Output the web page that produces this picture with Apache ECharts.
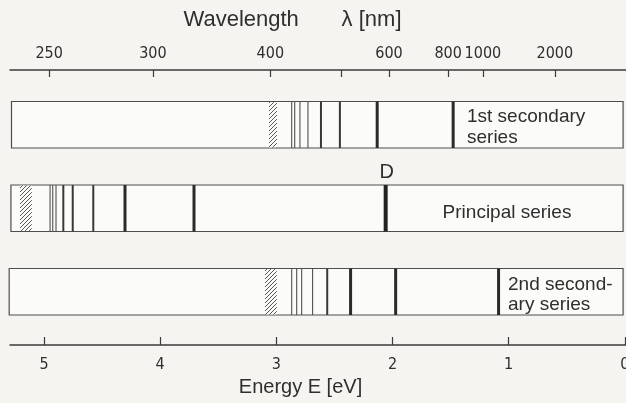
<!DOCTYPE html>
<html><head><meta charset="utf-8">
<script src="https://cdn.jsdelivr.net/npm/echarts@6/dist/echarts.min.js"></script>
<style>html,body{margin:0;padding:0;background:#f5f4f1}#c{width:626px;height:403px}</style>
</head><body><div id="c"></div>
<script>
// ---------------- data ----------------
const seriesNames = ['1st secondary series', 'Principal series', '2nd secondary series'];
const seriesLabels = ['1st secondary\nseries', 'Principal series', '2nd second-\nary series'];

// energy axis (eV) tick labels
const energyTicks = [0, 1, 2, 3, 4, 5];

// wavelength axis: labels and the energy at which each tick sits
const wavelengthTicks = [250, 300, 400, 500, 600, 800, 1000, 2000];
const wavelengthTickEnergy = [4.956, 4.063, 3.052, 2.441, 2.030, 1.521, 1.222, 0.603];
const wavelengthLabelled = [250, 300, 400, 600, 800, 1000, 2000];

// extent of each series band (eV)
const bandStart = [5.28, 5.285, 5.30];
const bandEnd = [0.015, 0.015, 0.015];

// series limits (hatched), eV
const diffuseLimit = [2.995, 3.064];
const principalLimit = [5.106, 5.207];
const sharpLimit = [2.997, 3.098];

// spectral lines (eV) with relative strength 1..4
const diffuseLines = [1.478, 2.132, 2.453, 2.616, 2.728, 2.797, 2.842, 2.868];
const diffuseStrength = [3, 3, 2, 2, 1, 1, 1, 1];
const principalLines = [2.059, 3.709, 4.303, 4.576, 4.753, 4.834, 4.897, 4.925, 4.948];
const principalStrength = [4, 3, 3, 2, 2, 2, 1, 1, 1];
const sharpLines = [1.087, 1.973, 2.361, 2.562, 2.688, 2.782, 2.825, 2.868];
const sharpStrength = [3, 3, 3, 2, 1, 1, 1, 1];

const dLineLabel = 'D';
const dLineEnergy = principalLines[0];

// ---------------- build ----------------
const chart = echarts.init(document.getElementById('c'), null, {renderer: 'canvas'});
const condensed = "'DejaVu Sans Condensed','Liberation Sans Narrow','Roboto Condensed','Liberation Sans',sans-serif";
const sans = "'Liberation Sans',Arial,Helvetica,sans-serif";
const ink = '#2e2e2e';
const BOX_H = 0.557; // row units

// hatch pattern
const pc = document.createElement('canvas');
pc.width = 4; pc.height = 4;
const g = pc.getContext('2d');
g.fillStyle = '#fbfbf9'; g.fillRect(0, 0, 4, 4);
g.strokeStyle = '#555'; g.lineWidth = 1;
g.beginPath();
g.moveTo(-1, 5); g.lineTo(5, -1);
g.moveTo(-1, 1); g.lineTo(1, -1);
g.moveTo(3, 5); g.lineTo(5, 3);
g.stroke();

const rows = [0, 1, 2];
const boxData = rows.map(r => [bandStart[r], bandEnd[r], r]);
const limits = [diffuseLimit, principalLimit, sharpLimit];
const hatchData = rows.map(r => [limits[r][0], limits[r][1], r]);
const lineSets = [[diffuseLines, diffuseStrength], [principalLines, principalStrength], [sharpLines, sharpStrength]];
const lineData = [];
lineSets.forEach((s, r) => s[0].forEach((e, i) => lineData.push([e, r, s[1][i]])));

const widthOf = {1: 1.1, 2: 2, 3: 3, 4: 4};
const colorOf = {1: '#505050', 2: '#383838', 3: '#2a2a2a', 4: '#222'};

function rectFor(api, a, b, row) {
  const p1 = api.coord([a, row + 0.5]);
  const p2 = api.coord([b, row + 0.5]);
  const h = api.size([0, BOX_H])[1];
  const x = Math.min(p1[0], p2[0]);
  return {x: x, y: p1[1] - h / 2, width: Math.abs(p2[0] - p1[0]), height: h};
}

function wlLabel(v) {
  for (let i = 0; i < wavelengthTickEnergy.length; i++) {
    if (Math.abs(wavelengthTickEnergy[i] - v) < 1e-6) return String(wavelengthTicks[i]);
  }
  return '';
}

const option = {
  backgroundColor: '#f5f4f1',
  animation: false,
  grid: {left: 10, right: 0, top: 83, bottom: 69.5, outerBoundsMode: 'none'},
  xAxis: [
    {
      type: 'value', position: 'bottom', min: -0.01, max: 5.293, inverse: true, offset: 11.5,
      axisLine: {show: true, onZero: false, lineStyle: {color: '#3a3a3a', width: 1.5}},
      axisTick: {show: true, inside: true, length: 8, lineStyle: {color: '#3a3a3a', width: 1.2}, customValues: energyTicks},
      axisLabel: {show: true, customValues: energyTicks, margin: 12, fontSize: 16, color: ink, fontFamily: condensed},
      splitLine: {show: false},
      name: 'Energy E [eV]', nameLocation: 'middle', nameGap: 30,
      nameTextStyle: {fontSize: 20, color: ink, fontFamily: sans, padding: [0, 35, 0, 0]}
    },
    {
      type: 'value', position: 'top', min: -0.01, max: 5.293, inverse: true, offset: 13,
      axisLine: {show: true, onZero: false, lineStyle: {color: '#3a3a3a', width: 1.5}},
      axisTick: {show: true, inside: true, length: 7, lineStyle: {color: '#3a3a3a', width: 1.2}, customValues: wavelengthTickEnergy},
      axisLabel: {show: true, customValues: wavelengthLabelled.map(w => wavelengthTickEnergy[wavelengthTicks.indexOf(w)]),
        formatter: wlLabel, margin: 8, fontSize: 16, color: ink, fontFamily: condensed},
      splitLine: {show: false},
      name: 'Wavelength       \u03bb [nm]', nameLocation: 'middle', nameGap: 39,
      nameTextStyle: {fontSize: 22, color: ink, fontFamily: sans, padding: [0, 51, 0, 0]}
    }
  ],
  yAxis: {type: 'value', min: 0, max: 3, inverse: true, show: false},
  series: [
    {
      name: 'bands', type: 'custom', xAxisIndex: 0, data: boxData, z: 1, clip: false,
      renderItem: (params, api) => {
        const r = rectFor(api, api.value(0), api.value(1), api.value(2));
        return {type: 'rect', shape: r, style: {fill: '#fbfbf9', stroke: '#4e4e4e', lineWidth: 1.2}};
      }
    },
    {
      name: 'limits', type: 'custom', xAxisIndex: 0, data: hatchData, z: 2, clip: false,
      renderItem: (params, api) => {
        const r = rectFor(api, api.value(0), api.value(1), api.value(2));
        return {type: 'rect', shape: {x: r.x, y: r.y + 0.6, width: r.width, height: r.height - 1.2},
          style: {fill: {image: pc, repeat: 'repeat'}, stroke: null}};
      }
    },
    {
      name: 'lines', type: 'custom', xAxisIndex: 0, data: lineData, z: 3, clip: false,
      renderItem: (params, api) => {
        const s = api.value(2);
        const p = api.coord([api.value(0), api.value(1) + 0.5]);
        const h = api.size([0, BOX_H])[1];
        return {type: 'line', shape: {x1: p[0], y1: p[1] - h / 2, x2: p[0], y2: p[1] + h / 2},
          style: {stroke: colorOf[s], lineWidth: widthOf[s]}};
      }
    },
    {
      name: 'D label', type: 'custom', xAxisIndex: 0, data: [[dLineEnergy, 1]], z: 4, clip: false,
      renderItem: (params, api) => {
        const p = api.coord([api.value(0), api.value(1) + 0.5]);
        const h = api.size([0, BOX_H])[1];
        return {type: 'text', style: {text: dLineLabel, x: p[0] + 1, y: p[1] - h / 2 - 13, align: 'center',
          verticalAlign: 'middle', font: '20px ' + sans, fill: ink}};
      }
    }
  ],
  graphic: [
    {type: 'text', left: 467, top: 106, z: 10,
      style: {text: seriesLabels[0], font: '19px ' + sans, lineHeight: 21, fill: ink}},
    {type: 'text', x: 507, y: 213, z: 10,
      style: {text: seriesLabels[1], font: '19px ' + sans, fill: ink, align: 'center', verticalAlign: 'middle'}},
    {type: 'text', left: 508, top: 275, z: 10,
      style: {text: seriesLabels[2], font: '19px ' + sans, lineHeight: 20, fill: ink}}
  ]
};
chart.setOption(option);
</script>
</body></html>
